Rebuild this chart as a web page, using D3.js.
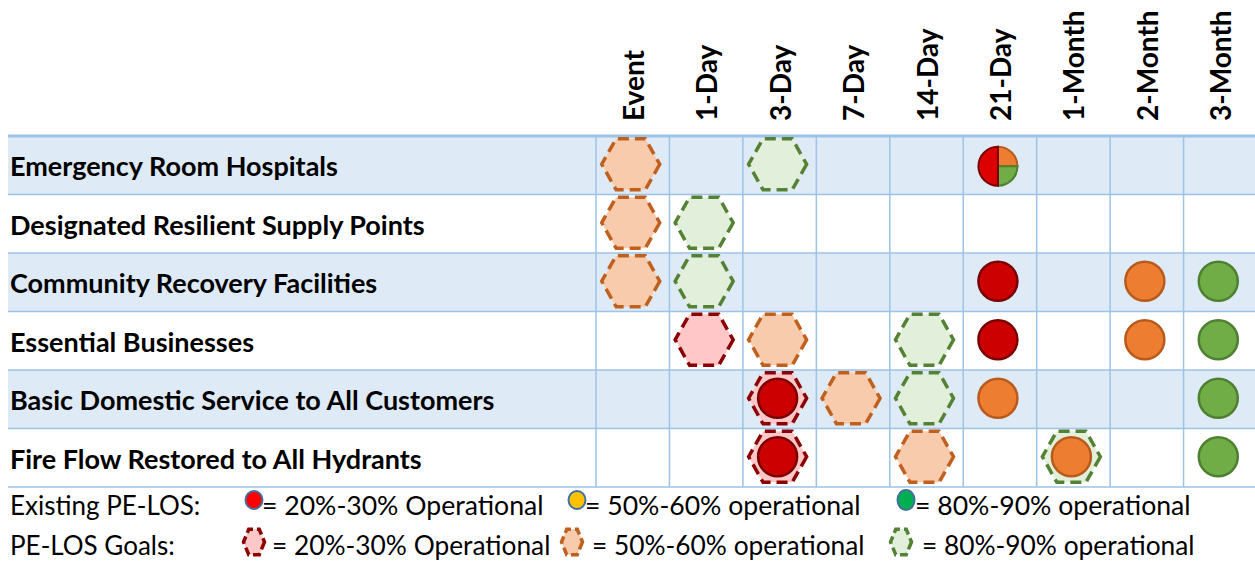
<!DOCTYPE html>
<html>
<head>
<meta charset="utf-8">
<script src="https://cdn.jsdelivr.net/npm/d3@7"></script>
<style>
  html, body { margin: 0; padding: 0; background: #fff; }
  svg { display: block; font-family: Lato, "Noto Sans", sans-serif; }
</style>
</head>
<body>
<svg id="chart" width="1255" height="561"></svg>
<script>
// ---- data
var categories = [
    "Emergency Room Hospitals",
    "Designated Resilient Supply Points",
    "Community Recovery Facilities",
    "Essential Businesses",
    "Basic Domestic Service to All Customers",
    "Fire Flow Restored to All Hydrants"
];
var periods = ["Event", "1-Day", "3-Day", "7-Day", "14-Day", "21-Day", "1-Month", "2-Month", "3-Month"];

// PE-LOS goals (dashed hexagons)
var goals = [
    { row: 0, period: "Event", level: "50-60" },
    { row: 0, period: "3-Day", level: "80-90" },
    { row: 1, period: "Event", level: "50-60" },
    { row: 1, period: "1-Day", level: "80-90" },
    { row: 2, period: "Event", level: "50-60" },
    { row: 2, period: "1-Day", level: "80-90" },
    { row: 3, period: "1-Day", level: "20-30" },
    { row: 3, period: "3-Day", level: "50-60" },
    { row: 3, period: "14-Day", level: "80-90" },
    { row: 4, period: "3-Day", level: "20-30" },
    { row: 4, period: "7-Day", level: "50-60" },
    { row: 4, period: "14-Day", level: "80-90" },
    { row: 5, period: "3-Day", level: "20-30" },
    { row: 5, period: "14-Day", level: "50-60" },
    { row: 5, period: "1-Month", level: "80-90" }
];

// existing PE-LOS (circles)
var existing = [
    { row: 2, period: "21-Day", level: "20-30" },
    { row: 2, period: "2-Month", level: "50-60" },
    { row: 2, period: "3-Month", level: "80-90" },
    { row: 3, period: "21-Day", level: "20-30" },
    { row: 3, period: "2-Month", level: "50-60" },
    { row: 3, period: "3-Month", level: "80-90" },
    { row: 4, period: "3-Day", level: "20-30" },
    { row: 4, period: "21-Day", level: "50-60" },
    { row: 4, period: "3-Month", level: "80-90" },
    { row: 5, period: "3-Day", level: "20-30" },
    { row: 5, period: "1-Month", level: "50-60" },
    { row: 5, period: "3-Month", level: "80-90" }
];

// mixed existing status (split circle)
var splitStatus = { row: 0, period: "21-Day" };
var splitParts = [
    { level: "50-60", share: 25 },
    { level: "80-90", share: 25 },
    { level: "20-30", share: 50 }
];

var legendExisting = [
    { level: "20-30", text: "= 20%-30% Operational" },
    { level: "50-60", text: "= 50%-60% operational" },
    { level: "80-90", text: "= 80%-90% operational" }
];
var legendGoals = [
    { level: "20-30", text: "= 20%-30% Operational" },
    { level: "50-60", text: "= 50%-60% operational" },
    { level: "80-90", text: "= 80%-90% operational" }
];

// ---- styles
var goalStyle = {
    "20-30": { fill: "#ffc7c7", stroke: "#8b0000" },
    "50-60": { fill: "#f8cbad", stroke: "#c0601f" },
    "80-90": { fill: "#e2efda", stroke: "#548235" }
};
var existStyle = {
    "20-30": { fill: "#cc0000", stroke: "#7a0000" },
    "50-60": { fill: "#ed7d31", stroke: "#b85a1c" },
    "80-90": { fill: "#70ad47", stroke: "#4f7f30" }
};
var legendDot = { "20-30": "#ff0000", "50-60": "#ffc000", "80-90": "#00b050" };

var gridColor = "#9dc3e6";
var bandFill = "#deeaf6";

var svg = d3.select("#chart");

var x = d3.scaleBand().domain(periods).range([596, 1257]);
var y = d3.scaleBand().domain(d3.range(categories.length)).range([136, 487]);

var cx = function (d) { return x(d.period) + x.bandwidth() / 2 - 2; };
var cy = function (d) { return y(d.row) + y.bandwidth() / 2 - 1; };

function hexPoints(r, sx, sy) {
    sx = sx || 1; sy = sy || 1;
    return d3.range(6).map(function (i) {
        var a = Math.PI / 3 * i;
        return [r * Math.cos(a) * sx, r * Math.sin(a) * sy];
    });
}

// row bands
svg.append("g").selectAll("rect")
    .data(categories)
    .join("rect")
    .attr("x", 8)
    .attr("y", function (d, i) { return y(i); })
    .attr("width", 1255 - 8)
    .attr("height", y.bandwidth())
    .attr("fill", function (d, i) { return i % 2 === 0 ? bandFill : "#fff"; });

// grid
var grid = svg.append("g");
grid.selectAll("line.h")
    .data(d3.range(1, categories.length + 1))
    .join("line")
    .attr("x1", 8).attr("x2", 1255)
    .attr("y1", function (i) { return i < categories.length ? y(i) : y.range()[1]; })
    .attr("y2", function (i) { return i < categories.length ? y(i) : y.range()[1]; })
    .attr("stroke", gridColor)
    .attr("stroke-width", 1.5);
grid.selectAll("line.v")
    .data(periods)
    .join("line")
    .attr("x1", function (d) { return x(d); })
    .attr("x2", function (d) { return x(d); })
    .attr("y1", y.range()[0]).attr("y2", y.range()[1])
    .attr("stroke", gridColor)
    .attr("stroke-width", 1.5);
grid.append("line")
    .attr("x1", 8).attr("x2", 1255)
    .attr("y1", y.range()[0]).attr("y2", y.range()[0])
    .attr("stroke", gridColor)
    .attr("stroke-width", 3);

// column headers
svg.append("g").selectAll("text")
    .data(periods)
    .join("text")
    .attr("transform", function (d) {
        return "translate(" + (x(d) + x.bandwidth() / 2 + 11) + ",121) rotate(-90)";
    })
    .attr("font-size", 28)
    .attr("font-weight", "bold")
    .attr("fill", "#000")
    .text(function (d) { return d; });

// row labels
svg.append("g").selectAll("text")
    .data(categories)
    .join("text")
    .attr("x", 10)
    .attr("y", function (d, i) { return y(i) + y.bandwidth() / 2 + 11; })
    .attr("font-size", 27)
    .attr("font-weight", "bold")
    .attr("fill", "#000")
    .text(function (d) { return d; });

// goal hexagons
var hexLine = d3.line().curve(d3.curveLinearClosed);
svg.append("g").selectAll("path")
    .data(goals)
    .join("path")
    .attr("transform", function (d) { return "translate(" + cx(d) + "," + cy(d) + ")"; })
    .attr("d", hexLine(hexPoints(29, 1, 1.02)))
    .attr("fill", function (d) { return goalStyle[d.level].fill; })
    .attr("stroke", function (d) { return goalStyle[d.level].stroke; })
    .attr("stroke-width", 3.5)
    .attr("stroke-dasharray", "11,6");

// existing circles
svg.append("g").selectAll("circle")
    .data(existing)
    .join("circle")
    .attr("cx", cx)
    .attr("cy", cy)
    .attr("r", 19.5)
    .attr("fill", function (d) { return existStyle[d.level].fill; })
    .attr("stroke", function (d) { return existStyle[d.level].stroke; })
    .attr("stroke-width", 2.5);

// split circle
var pie = d3.pie().sort(null).value(function (d) { return d.share; });
var arc = d3.arc().innerRadius(0).outerRadius(19.5);
svg.append("g")
    .attr("transform", "translate(" + cx(splitStatus) + "," + (cy(splitStatus) + 2) + ")")
    .selectAll("path")
    .data(pie(splitParts))
    .join("path")
    .attr("d", arc)
    .attr("fill", function (d) { return d.data.level === "20-30" ? "#dd0000" : existStyle[d.data.level].fill; })
    .attr("stroke", function (d) { return existStyle[d.data.level].stroke; })
    .attr("stroke-width", 2);

// legend
var lg = svg.append("g").attr("font-size", 26).attr("fill", "#000");
lg.append("text").attr("x", 10).attr("y", 515).text("Existing PE-LOS:");
lg.append("text").attr("x", 10).attr("y", 555).text("PE-LOS Goals:");

var dotX = [254, 577, 906];
var dotTextX = [262, 585, 915];
legendExisting.forEach(function (d, i) {
    lg.append("ellipse")
        .attr("cx", dotX[i]).attr("cy", 500)
        .attr("rx", 8.5).attr("ry", i === 2 ? 10 : 9)
        .attr("fill", legendDot[d.level])
        .attr("stroke", "#41719c")
        .attr("stroke-width", 2);
    lg.append("text").attr("x", dotTextX[i]).attr("y", 515)
        .attr("font-size", 26.6).text(d.text);
});

var hexX = [254, 572, 901];
var hexTextX = [272, 592, 922];
legendGoals.forEach(function (d, i) {
    lg.append("path")
        .attr("transform", "translate(" + hexX[i] + ",542)")
        .attr("d", hexLine(hexPoints(10.5, 1, 1.4)))
        .attr("fill", goalStyle[d.level].fill)
        .attr("stroke", goalStyle[d.level].stroke)
        .attr("stroke-width", 3.5)
        .attr("stroke-dasharray", "8,4");
    lg.append("text").attr("x", hexTextX[i]).attr("y", 555)
        .attr("font-size", 26.3).text(d.text);
});
</script>
</body>
</html>
